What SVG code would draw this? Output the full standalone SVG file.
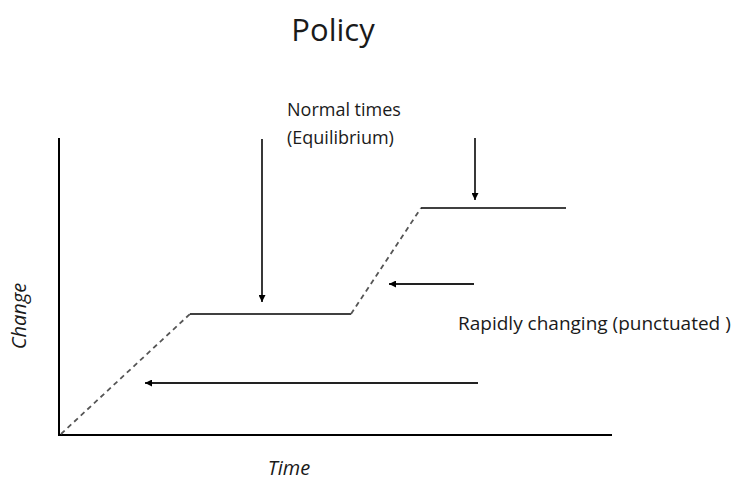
<svg xmlns="http://www.w3.org/2000/svg" width="744" height="482" viewBox="0 0 744 482">
<style>
.ax{stroke:#000;stroke-width:2;fill:none}
.sol{stroke:#000;stroke-width:1.5;fill:none}
.dash{stroke:#555;stroke-width:1.8;stroke-dasharray:5,4;fill:none}
.arr{stroke:#222;stroke-width:1.8;fill:none;marker-end:url(#ah)}
.t{font-family:"Open Sans","Liberation Sans",sans-serif;fill:#1a1a1a}
.i{font-family:"Open Sans","Liberation Sans",sans-serif;font-style:italic;fill:#1a1a1a;font-size:20px}
</style>
<defs>
<marker id="ah" viewBox="0 0 10 10" refX="10" refY="5" markerWidth="7" markerHeight="7" markerUnits="userSpaceOnUse" orient="auto">
<path d="M0,0 L10,5 L0,10 z" fill="#000"/>
</marker>
</defs>
<rect width="744" height="482" fill="#fff"/>
<g id="title"><text class="t" x="333" y="41" font-size="31" text-anchor="middle">Policy</text></g>
<g id="axes">
<path class="ax" d="M59,138 V435 H612"/>
</g>
<g id="curve">
<path class="dash" d="M61,434 L190,314"/>
<path class="sol" d="M190,314 H351"/>
<path class="dash" d="M351,314 L421,208"/>
<path class="sol" d="M421,208 H566"/>
</g>
<g id="connectors">
<line class="arr" x1="262" y1="139" x2="262" y2="302"/>
<line class="arr" x1="475" y1="138" x2="475" y2="200"/>
<line class="arr" x1="474" y1="284" x2="389" y2="284"/>
<line class="arr" x1="478" y1="383" x2="145" y2="383"/>
</g>
<g id="label-normal">
<text class="t" x="287" y="116" font-size="18">Normal times</text>
<text class="t" x="287" y="144" font-size="18">(Equilibrium)</text>
</g>
<g id="label-rapid"><text class="t" x="458" y="330" font-size="19">Rapidly changing (punctuated )</text></g>
<g id="label-change"><text class="i" transform="translate(26,316) rotate(-90)" text-anchor="middle">Change</text></g>
<g id="label-time"><text class="i" x="289" y="475" text-anchor="middle" font-size="19">Time</text></g>
</svg>
